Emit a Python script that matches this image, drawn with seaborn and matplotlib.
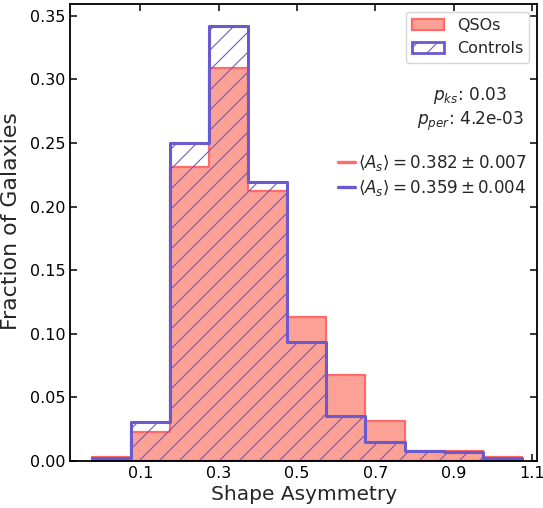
import numpy as np
import pandas as pd
import matplotlib
matplotlib.use("Agg")
import matplotlib.pyplot as plt
import seaborn as sns
from matplotlib.patches import Patch
from matplotlib.lines import Line2D

# ---- data ----
bin_edges = [-0.025, 0.075, 0.175, 0.275, 0.375, 0.475, 0.575, 0.675, 0.775, 0.875, 0.975, 1.075]
qso_frac = [0.0027, 0.0223, 0.2313, 0.3087, 0.2120, 0.1133, 0.0672, 0.0312, 0.0075, 0.0079, 0.0027]
ctrl_frac = [0.0024, 0.0302, 0.2502, 0.3423, 0.2193, 0.0936, 0.0354, 0.0145, 0.0075, 0.0071, 0.0024]
series_labels = ["QSOs", "Controls"]
mean_labels = [r"$\langle A_s \rangle = 0.382 \pm 0.007$",
               r"$\langle A_s \rangle = 0.359 \pm 0.004$"]
stats_text = "$p_{ks}$: 0.03\n$p_{per}$: 4.2e-03"
x_ticks = [0.1, 0.3, 0.5, 0.7, 0.9, 1.1]
y_ticks = [0.00, 0.05, 0.10, 0.15, 0.20, 0.25, 0.30, 0.35]

centers = [(a + b) / 2 for a, b in zip(bin_edges[:-1], bin_edges[1:])]
df = pd.DataFrame({"center": centers, "qso": qso_frac, "ctrl": ctrl_frac})

DPI = 60
K = 100 / DPI  # sizes below are given as points at 100 dpi


def pt(v):
    return v * K


sns.set_style("ticks")
plt.rcParams["font.family"] = ["DejaVu Sans"]
plt.rcParams["hatch.linewidth"] = 1.3

RED_EDGE = "#ff6a6a"
RED_FILL = "#fba195"
PURPLE = "slateblue"

fig = plt.figure(figsize=(543 / DPI, 508 / DPI), dpi=DPI)
ax = fig.add_axes([70 / 543, 1 - 460.7 / 508, (537.3 - 70) / 543, (460.7 - 4) / 508])

sns.histplot(data=df, x="center", weights="qso", bins=bin_edges, element="step",
             fill=True, color=RED_FILL, facecolor=RED_FILL, edgecolor=RED_EDGE,
             linewidth=pt(1.6), alpha=1, ax=ax)
sns.histplot(data=df, x="center", weights="ctrl", bins=bin_edges, element="step",
             fill=True, color=PURPLE, facecolor="none", edgecolor=PURPLE, hatch="/",
             linewidth=pt(2.2), alpha=1, ax=ax)

ax.set_xlim(-0.08, 1.114)
ax.set_ylim(0, 0.3594)
ax.set_xticks(x_ticks)
ax.set_xticklabels([f"{t:.1f}" for t in x_ticks])
ax.set_yticks(y_ticks)
ax.set_yticklabels([f"{t:.2f}" for t in y_ticks])
ax.tick_params(direction="in", top=True, right=True, length=pt(5), width=pt(1.1),
               labelsize=pt(11.5), colors="black", pad=pt(3.5))
for s in ax.spines.values():
    s.set_visible(True)
    s.set_linewidth(pt(1.3))
    s.set_color("black")
ax.set_xlabel("Shape Asymmetry", fontsize=pt(14.5), labelpad=pt(3))
ax.set_ylabel("Fraction of Galaxies", fontsize=pt(15.8))
ax.yaxis.set_label_coords(-0.105, 0.525)

handles1 = [Patch(facecolor=RED_FILL, edgecolor=RED_EDGE, linewidth=pt(1.6)),
            Patch(facecolor="white", edgecolor=PURPLE, hatch="/", linewidth=pt(2.0))]
leg1 = ax.legend(handles1, series_labels, loc="upper right", fontsize=pt(11.5),
                 frameon=True, fancybox=True)
leg1.get_frame().set_linewidth(pt(1.0))
ax.add_artist(leg1)

ax.text(0.857, 0.771, stats_text, transform=ax.transAxes, ha="center", va="center",
        multialignment="center", fontsize=pt(12.2), linespacing=1.25)

handles2 = [Line2D([0], [0], color=RED_EDGE, lw=pt(2.4)),
            Line2D([0], [0], color=PURPLE, lw=pt(2.4))]
ax.legend(handles2, mean_labels, loc="upper right", bbox_to_anchor=(1.0, 0.695),
          fontsize=pt(12.1), frameon=False, handlelength=1.0, handletextpad=0.2,
          borderaxespad=0.2, labelspacing=0.28)

fig.savefig("out.png", dpi=DPI)
